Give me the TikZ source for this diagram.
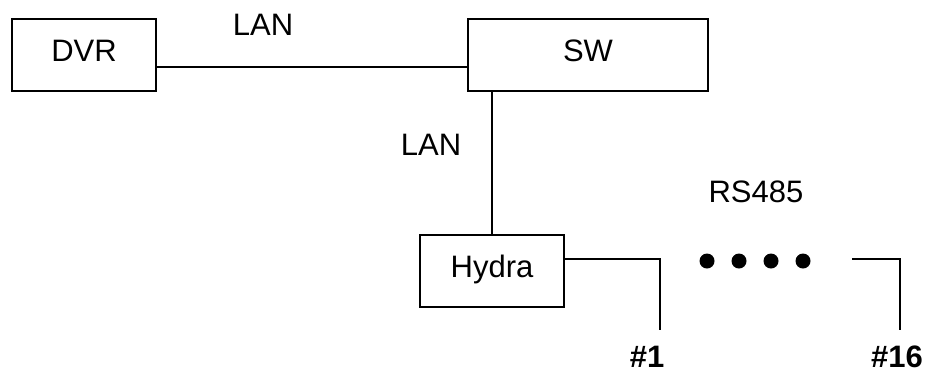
\documentclass[tikz,border=0pt]{standalone}
\usepackage{fontspec}
\setmainfont{Liberation Sans}
\begin{document}
\begin{tikzpicture}[x=1pt,y=-1pt,
  every node/.style={font=\fontsize{31}{36}\selectfont},
  unit/.style={draw,line width=1.5pt,inner sep=0pt,text height=22pt,text depth=10pt},
  wire/.style={line width=1.5pt},
  lbl/.style={anchor=base,inner sep=0pt},
  tag/.style={anchor=base,inner sep=0pt,font=\fontsize{31}{36}\selectfont\bfseries},
  dot/.style={circle,fill=black,inner sep=0pt,minimum size=15pt}]
  \useasboundingbox (0,0) rectangle (934,373);

  % devices
  \node[unit,minimum width=144pt,minimum height=72pt] (dvr) at (84,55) {DVR};
  \node[unit,minimum width=240pt,minimum height=72pt] (sw) at (588,55) {SW};
  \node[unit,minimum width=144pt,minimum height=72pt] (hydra) at (492,271) {Hydra};

  % labels
  \node[lbl] (lan1) at (263,35) {LAN};
  \node[lbl] (lan2) at (431,155) {LAN};
  \node[lbl] (rs) at (756,202) {RS485};
  \node[tag] (t1) at (647,367) {\#1};
  \node[tag] (t16) at (897,367) {\#16};

  % bus continuation dots
  \foreach \i/\x in {1/707,2/739,3/771,4/803}
    \node[dot] (d\i) at (\x,261) {};

  % line end points
  \coordinate (b1) at (660,330);
  \coordinate (b16s) at (852,259);
  \coordinate (b16) at (900,330);

  % connections
  \draw[wire] ([yshift=-12pt]dvr.east) -- ([yshift=-12pt]dvr.east -| sw.west);
  \draw[wire] (hydra.north) -- (hydra.north |- sw.south);
  \draw[wire] ([yshift=12pt]hydra.east) -| (b1);
  \draw[wire] (b16s) -| (b16);
\end{tikzpicture}
\end{document}
